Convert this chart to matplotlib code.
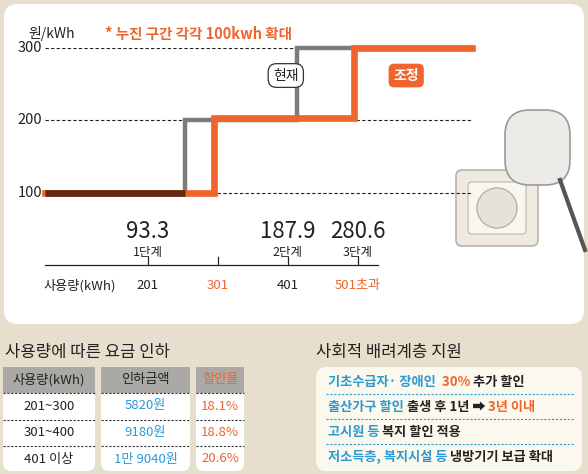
import matplotlib
matplotlib.use("Agg")
import matplotlib.pyplot as plt
from matplotlib.patches import FancyBboxPatch, Rectangle

plt.rcParams['font.family'] = ['Noto Sans CJK KR', 'DejaVu Sans']

W, H = 588, 474
ORANGE = '#f0642d'
GRAY = '#7d7d7d'
BLUE = '#2b9ad3'
BROWN = '#5e2a12'

# ---- data ----
current_x = [54, 254, 254, 414, 414, 664]
current_y = [100, 100, 200, 200, 300, 300]
adjusted_x = [54, 296, 296, 496, 496, 664]
adjusted_y = [100, 100, 203, 203, 300, 300]
yticks = [100, 200, 300]
tick_kwh = [201, 301, 401, 501]
tick_labels = ['201', '301', '401', '501초과']
tick_colors = ['#222', ORANGE, '#222', ORANGE]
stage_x = [201, 401, 501]
stage_vals = ['93.3', '187.9', '280.6']
stage_names = ['1단계', '2단계', '3단계']

table_headers = ['사용량(kWh)', '인하금액', '할인율']
table_usage = ['201~300', '301~400', '401 이상']
table_amount = ['5820원', '9180원', '1만 9040원']
table_rate = ['18.1%', '18.8%', '20.6%']

support_lines = [
    [('기초수급자· 장애인  ', BLUE), ('30% ', ORANGE), ('추가 할인', '#222')],
    [('출산가구 할인 ', BLUE), ('출생 후 1년 ➡ ', '#222'), ('3년 이내', ORANGE)],
    [('고시원 등 ', BLUE), ('복지 할인 적용', '#222')],
    [('저소득층, 복지시설 등 ', BLUE), ('냉방기기 보급 확대', '#222')],
]

fig = plt.figure(figsize=(W/100, H/100), dpi=100)
fig.patch.set_facecolor('#e7dfcd')

def fx(x): return x / W
def fy(y): return 1 - y / H

bg = fig.add_axes([0, 0, 1, 1]); bg.set_xlim(0, W); bg.set_ylim(H, 0); bg.axis('off')
bg.add_patch(FancyBboxPatch((4, 4), 580, 320, boxstyle='round,pad=0,rounding_size=14',
                            fc='white', ec='none'))
# simple socket illustration
bg.add_patch(FancyBboxPatch((456, 170), 82, 76, boxstyle='round,pad=0,rounding_size=6',
                            fc='#efeae0', ec='#b9b4aa', lw=1.2))
bg.add_patch(FancyBboxPatch((468, 182), 58, 52, boxstyle='round,pad=0,rounding_size=4',
                            fc='#f8f6f1', ec='#c8c3b8', lw=1))
bg.add_patch(plt.Circle((497, 208), 20, fc='#e6e2da', ec='#b8b3a8', lw=1))
bg.add_patch(FancyBboxPatch((505, 110), 65, 75, boxstyle='round,pad=0,rounding_size=25',
                            fc='#ecebe8', ec='#9a9a98', lw=1.2))
bg.plot([560, 585], [180, 250], color='#555', lw=3)

# ---- chart ----
ax = fig.add_axes([fx(45), fy(295), (472-45)/W, (295-48)/H])
ax.set_xlim(54, 664); ax.set_ylim(-41, 300)
ax.axis('off')
for v in yticks:
    ax.plot([54, 664], [v, v], ls=(0, (3, 2)), color='#222', lw=0.8, zorder=1)
    ax.text(50, v, str(v), ha='right', va='center', fontsize=10.5, color='#222', clip_on=False)
ax.text(30, 320, '원/kWh', ha='left', va='center', fontsize=10, color='#222', clip_on=False)
ax.text(140, 320, '* 누진 구간 각각 100kwh 확대', ha='left', va='center', fontsize=10.5,
        color=ORANGE, fontweight='bold', clip_on=False)

ax.plot(current_x, current_y, color=GRAY, lw=3.2, solid_joinstyle='miter', zorder=2, clip_on=False)
ax.plot(adjusted_x, adjusted_y, color=ORANGE, lw=4.8, solid_joinstyle='miter', zorder=3, clip_on=False)
ax.plot([current_x[0], current_x[1]], [current_y[0], current_y[1]], color=BROWN, lw=4.8, zorder=4,
        solid_capstyle='butt')

# callouts
ax.text(398, 262, '현재', ha='center', va='center', fontsize=10, color='#222', zorder=5,
        bbox=dict(boxstyle='round,pad=0.35,rounding_size=0.6', fc='white', ec='#333', lw=0.9))
ax.text(570, 262, '조정', ha='center', va='center', fontsize=10, color='white', fontweight='bold',
        zorder=5, bbox=dict(boxstyle='round,pad=0.35,rounding_size=0.4', fc=ORANGE, ec='none'))

# x axis
ax.plot([54, 530], [0, 0], color='#222', lw=0.9, clip_on=False)
for k, lab, c in zip(tick_kwh, tick_labels, tick_colors):
    ax.plot([k, k], [0, 11], color='#222', lw=0.9, clip_on=False)
    ax.text(k, -28, lab, ha='center', va='center', fontsize=9.5, color=c, clip_on=False)
ax.text(104, -28, '사용량(kWh)', ha='center', va='center', fontsize=9.5, color='#222', clip_on=False)
for k, val, nm in zip(stage_x, stage_vals, stage_names):
    ax.text(k, 47, val, ha='center', va='center', fontsize=16, color='#222', clip_on=False,
            family=['Noto Sans CJK KR'])
    ax.text(k, 17, nm, ha='center', va='center', fontsize=9, color='#222', clip_on=False)

# ---- bottom left table ----
fig.text(fx(5), fy(352), '사용량에 따른 요금 인하', fontsize=12, color='#222', va='center',
         ha='left', fontweight='medium')
cols = [(3, 95), (101, 190), (196, 244)]
for ci, (x0, x1) in enumerate(cols):
    bg.add_patch(FancyBboxPatch((x0, 367), x1-x0, 104, boxstyle='round,pad=0,rounding_size=8',
                                fc='white', ec='none'))
    bg.add_patch(Rectangle((x0, 367), x1-x0, 26, fc='#aaa9a6', ec='none'))
    cx = (x0 + x1) / 2
    bg.text(cx, 380, table_headers[ci], ha='center', va='center', fontsize=9.5,
            color=ORANGE if ci == 2 else '#222', fontweight='medium')
    for yy in (393, 420, 446):
        bg.plot([x0, x1], [yy, yy], ls=(0, (2, 1.5)), color='#333', lw=0.8)
    vals = [table_usage, table_amount, table_rate][ci]
    colr = ['#222', BLUE, ORANGE][ci]
    for ri, v in enumerate(vals):
        bg.text(cx, 406 + ri*26.5, v, ha='center', va='center', fontsize=9.5, color=colr)

# ---- bottom right box ----
fig.text(fx(316), fy(352), '사회적 배려계층 지원', fontsize=12, color='#222', va='center',
         ha='left', fontweight='medium')
bg.add_patch(FancyBboxPatch((316, 367), 266, 104, boxstyle='round,pad=0,rounding_size=10',
                            fc='#fbf8ee', ec='none'))
for yy in (394, 419, 444):
    bg.plot([326, 574], [yy, yy], ls=(0, (2, 1.5)), color=BLUE, lw=0.8)
fig.canvas.draw()
r = fig.canvas.get_renderer()
for li, segs in enumerate(support_lines):
    x = 328
    y = 382 + li * 25
    for s, c in segs:
        t = bg.text(x, y, s, ha='left', va='center', fontsize=9.5, color=c, fontweight='bold',
                    family=['Noto Sans CJK KR', 'DejaVu Sans'])
        x += t.get_window_extent(renderer=r).width

fig.savefig('out.png', dpi=100, facecolor=fig.get_facecolor())
